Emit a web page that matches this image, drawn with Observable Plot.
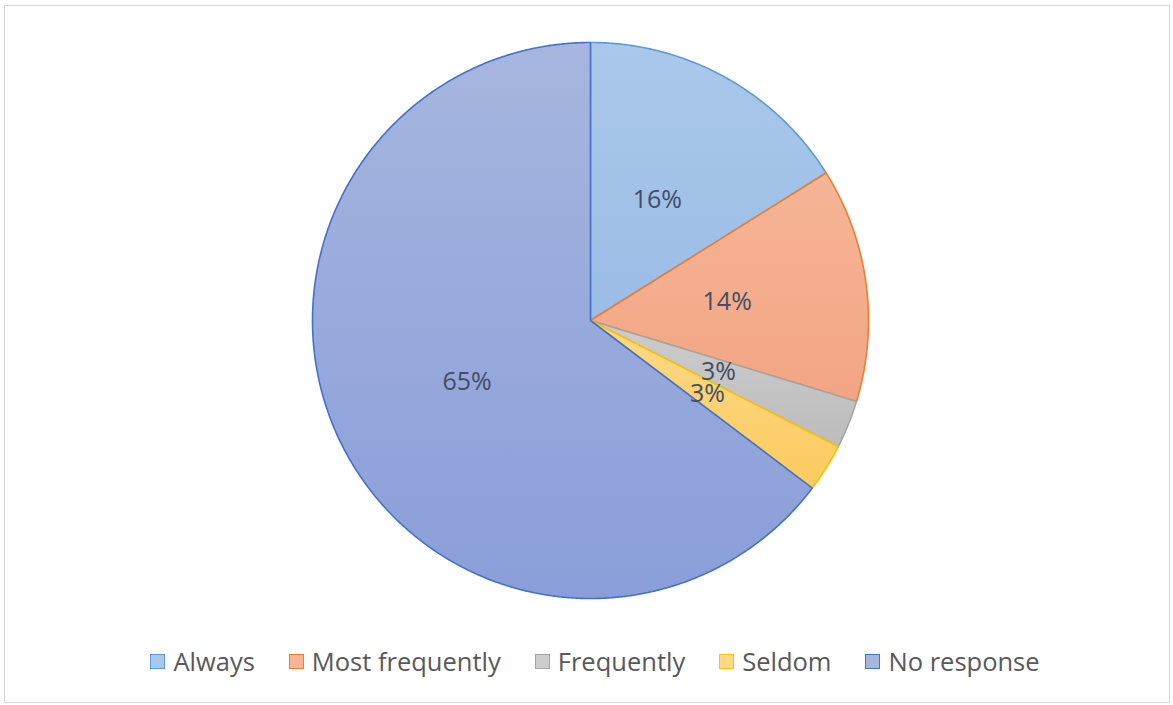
<!DOCTYPE html>
<html>
<head>
<meta charset="utf-8">
<script src="https://cdn.jsdelivr.net/npm/d3@7"></script>
<script src="https://cdn.jsdelivr.net/npm/@observablehq/plot@0.6"></script>
<style>
  html, body { margin: 0; padding: 0; background: #fff; width: 1173px; height: 705px; overflow: hidden; }
  #frame { position: absolute; left: 4px; top: 5px; width: 1166px; height: 698px; border: 1px solid #d6d6d6; box-sizing: border-box; }
  #chart { position: absolute; left: 0; top: 0; }
  #legend { position: absolute; left: 0; width: 1190px; top: 642px; height: 38px; display: flex; justify-content: center; align-items: center;
            font-family: "Open Sans", sans-serif; font-size: 25.5px; color: #595959; }
  .item { display: flex; align-items: center; margin: 0 17px; }
  .sw { width: 15px; height: 15px; box-sizing: border-box; border: 1.5px solid; margin-right: 8px; }
</style>
</head>
<body>
<div id="frame"></div>
<div id="chart"></div>
<div id="legend"></div>
<script>
// ---- data ----
const categories = ["Always", "Most frequently", "Frequently", "Seldom", "No response"];
const shares = [16.1, 13.6, 2.8, 2.8, 64.7];
const labels = ["16%", "14%", "3%", "3%", "65%"];

// ---- styles ----
const fillTop = ["#aac8ea", "#f6b597", "#cdcdcd", "#fdd987", "#a6b6df"];
const fillBottom = ["#9bbce6", "#f2a583", "#bcbcbc", "#fbcb5e", "#8a9ed9"];
const strokes = ["#5b9bd5", "#ed7d31", "#a5a5a5", "#ffc000", "#4472c4"];

const W = 1173, H = 640, cx = 590, cy = 320, R = 278;
const labelR = 0.496;

const arcs = d3.pie().sort(null).value(d => d)(shares);
const slices = arcs.map((a, i) => {
  const pts = [{x: 0, y: 0}];
  const n = Math.max(4, Math.ceil((a.endAngle - a.startAngle) / 0.005));
  for (let k = 0; k <= n; k++) {
    const t = a.startAngle + (a.endAngle - a.startAngle) * k / n;
    pts.push({x: Math.sin(t), y: -Math.cos(t)});
  }
  return pts;
});
const labelData = arcs.map((a, i) => {
  const m = (a.startAngle + a.endAngle) / 2;
  return {x: labelR * Math.sin(m), y: -labelR * Math.cos(m), text: labels[i]};
});

const marks = slices.map((pts, i) =>
  Plot.line(pts, {x: "x", y: "y", curve: "linear-closed", fill: `url(#grad${i})`, stroke: strokes[i], strokeWidth: 1.6, strokeLinejoin: "round"})
);
marks.push(Plot.text(labelData, {x: "x", y: "y", text: "text", fill: "#434e66", fontSize: 25, fontFamily: "Open Sans, sans-serif", textAnchor: "middle"}));

const svg = Plot.plot({
  width: W, height: H,
  margin: 0,
  x: {domain: [-1, 1], range: [cx - R, cx + R], axis: null},
  y: {domain: [-1, 1], range: [cy - R, cy + R], axis: null},
  style: {background: "transparent", overflow: "visible"},
  marks
});
const defs = d3.select(svg).insert("defs", ":first-child");
fillTop.forEach((c, i) => {
  const g = defs.append("linearGradient").attr("id", `grad${i}`).attr("x1", 0).attr("y1", 0).attr("x2", 0).attr("y2", 1);
  g.append("stop").attr("offset", "0%").attr("stop-color", c);
  g.append("stop").attr("offset", "100%").attr("stop-color", fillBottom[i]);
});
document.getElementById("chart").appendChild(svg);

const legend = d3.select("#legend");
categories.forEach((c, i) => {
  const it = legend.append("div").attr("class", "item");
  it.append("div").attr("class", "sw").style("background", fillTop[i]).style("border-color", strokes[i]);
  it.append("span").text(c);
});
</script>
</body>
</html>
